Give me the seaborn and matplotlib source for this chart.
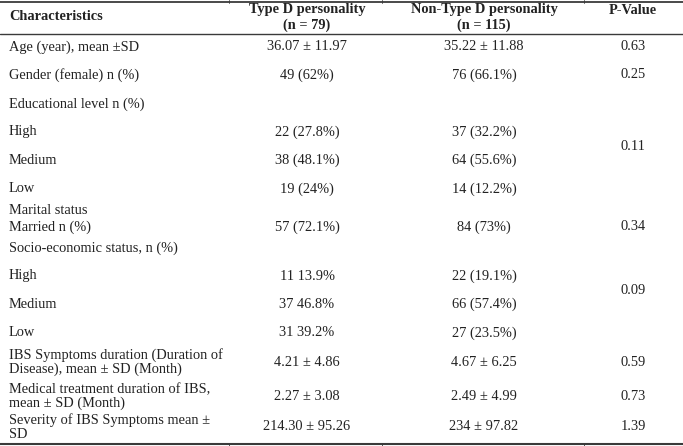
import matplotlib
matplotlib.use("Agg")
import matplotlib.pyplot as plt
import seaborn as sns

# table content
headers = ["Characteristics", "Type D personality\n(n = 79)", "Non-Type D personality\n(n = 115)", "P-Value"]
characteristics = [
    "Age (year), mean \u00b1SD",
    "Gender (female) n (%)",
    "Educational level n (%)",
    "High",
    "Medium",
    "Low",
    "Marital status\nMarried n (%)",
    "Socio-economic status, n (%)",
    "High",
    "Medium",
    "Low",
    "IBS Symptoms duration (Duration of\nDisease), mean \u00b1 SD (Month)",
    "Medical treatment duration of IBS,\nmean \u00b1 SD (Month)",
    "Severity of IBS Symptoms mean \u00b1\nSD",
]
type_d = ["36.07 \u00b1 11.97", "49 (62%)", "", "22 (27.8%)", "38 (48.1%)", "19 (24%)",
          "57 (72.1%)", "", "11 13.9%", "37 46.8%", "31 39.2%",
          "4.21 \u00b1 4.86", "2.27 \u00b1 3.08", "214.30 \u00b1 95.26"]
non_type_d = ["35.22 \u00b1 11.88", "76 (66.1%)", "", "37 (32.2%)", "64 (55.6%)", "14 (12.2%)",
              "84 (73%)", "", "22 (19.1%)", "66 (57.4%)", "27 (23.5%)",
              "4.67 \u00b1 6.25", "2.49 \u00b1 4.99", "234 \u00b1 97.82"]
p_values = ["0.63", "0.25", "", "", "0.11", "", "0.34", "", "", "0.09", "", "0.59", "0.73", "1.39"]

# layout (pixel coordinates)
label_y = [47, 75, 104, 132, 160, 189, 219, 248, 276, 304, 333, 362, 397, 427]
label_ls = [1.0] * 6 + [1.25] + [1.0] * 4 + [1.08, 1.02, 1.05]
value_y = [47, 75, 104, 132, 160, 189, 227, 248, 276, 304, 333, 362, 397, 427]
p_y = [47, 75, 104, 132, 146, 189, 227, 248, 276, 290, 333, 362, 397, 427]
col_x = [9, 307, 484, 633]

sns.set_theme(style="white")
plt.rcParams["font.family"] = ["Liberation Serif", "DejaVu Serif"]

fig = plt.figure(figsize=(6.83, 4.46), dpi=100)
ax = fig.add_axes([0, 0, 1, 1])
ax.set_xlim(0, 683)
ax.set_ylim(446, 0)
ax.axis("off")

fs = 10.4
color = "#222222"

# header
ax.text(col_x[0], 17, headers[0], fontsize=fs, fontweight="bold", ha="left", va="center", color=color)
for x, h in zip(col_x[1:], headers[1:]):
    ax.text(x, 17.5 if "\n" in h else 10.5, h, fontsize=fs, fontweight="bold", ha="center",
            va="center", color=color, linespacing=1.15)

for i, label in enumerate(characteristics):
    ax.text(col_x[0], label_y[i], label, fontsize=fs, ha="left", va="center",
            color=color, linespacing=label_ls[i])
    ax.text(col_x[1], value_y[i], type_d[i], fontsize=fs, ha="center", va="center", color=color)
    ax.text(col_x[2], value_y[i], non_type_d[i], fontsize=fs, ha="center", va="center", color=color)
    if p_values[i]:
        ax.text(col_x[3], p_y[i], p_values[i], fontsize=fs, ha="center", va="center", color=color)

# rules
line_c = "#3a3a3a"
ax.plot([0, 683], [1.5, 1.5], color=line_c, lw=1.3)
ax.plot([0, 683], [34, 34], color=line_c, lw=1.0)
ax.plot([0, 683], [443.5, 443.5], color=line_c, lw=1.5)
for x in [229, 382, 584]:
    ax.plot([x, x], [443, 446], color=line_c, lw=0.6)
    ax.plot([x, x], [0, 3], color=line_c, lw=0.6)

fig.savefig("out.png", dpi=100)
